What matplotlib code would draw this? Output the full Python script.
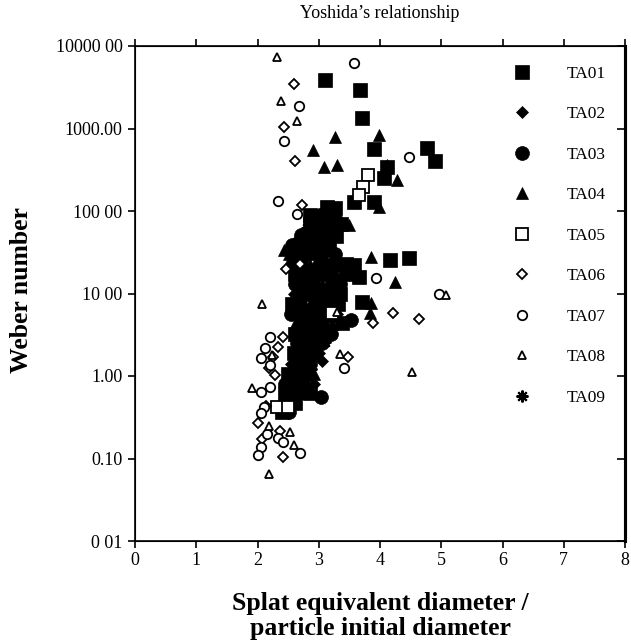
import matplotlib
matplotlib.use("Agg")
import matplotlib.pyplot as plt
from matplotlib.ticker import NullLocator

plt.rcParams['font.family'] = ['Liberation Serif', 'DejaVu Serif']

# ---------------------------------------------------------------------------
# data (x = splat / particle diameter, y = We)
# ---------------------------------------------------------------------------
ta01_x = [3.11, 3.68, 3.70, 4.76, 4.89, 3.90, 4.06, 4.12, 3.90, 3.57, 3.13, 3.26,
          2.88, 3.04, 2.85, 4.17, 4.48, 3.70, 3.57, 3.66,
          2.86, 3.16, 3.06, 3.36, 2.86, 3.28, 2.86, 3.16, 2.66, 2.96, 2.71, 3.15,
          3.44, 2.61, 3.06, 3.50, 2.75, 3.21, 2.76, 3.04, 3.35, 2.56, 3.01, 3.31,
          2.71, 3.16, 2.91, 3.38, 2.62, 3.07, 2.80, 2.60, 2.92, 2.70, 2.50, 2.80,
          2.60, 2.45, 2.86, 2.62, 2.40]
ta01_y = [3900, 2900, 1350, 580, 400, 560, 250, 340, 130, 130, 112, 108,
          74, 64, 70, 25.5, 27, 7.9, 22, 16,
          89, 87, 68, 70, 51, 50, 39, 40, 30, 31, 22, 22,
          23, 17, 17, 17, 13, 13, 9.8, 9.6, 10, 7.4, 7.2, 7.5,
          5.6, 5.5, 4.3, 4.4, 3.2, 3.1, 2.5, 1.9, 1.9, 1.4, 1.07, 1.05,
          0.81, 0.62, 0.62, 0.47, 0.37]

ta02_x = [3.06, 3.21, 2.70, 3.10, 2.90, 2.60, 3.19, 2.85, 3.30, 2.77, 3.00,
          2.55, 2.92, 2.66]
ta02_y = [1.5, 68, 39, 30, 17, 9.8, 9.9, 5.6, 5.7, 3.2, 1.9,
          1.4, 0.81, 46]

ta03_x = [3.52, 3.04, 2.62, 2.85, 3.02, 2.92, 2.71, 3.14, 2.56, 3.00, 2.80, 3.26,
          2.56, 3.01, 3.30, 2.76, 3.20, 2.61, 2.91, 3.34, 2.90, 2.70, 3.16, 2.55,
          3.00, 2.75, 3.05, 2.92, 3.20, 2.65, 3.06, 2.75, 2.85, 2.65, 2.45, 2.75,
          2.60, 2.45, 2.52]
ta03_y = [4.8, 0.56, 36, 42, 89, 68, 51, 51, 39, 39, 30, 30,
          22, 22, 22, 17, 17, 13, 13, 13, 9.8, 7.4, 7.4, 5.6,
          5.6, 4.3, 4.3, 3.2, 3.2, 2.5, 2.5, 1.9, 1.4, 1.07, 0.81, 0.81,
          0.62, 0.47, 0.37]

ta04_x = [3.99, 3.26, 2.91, 3.09, 3.29, 4.11, 4.27, 3.99, 3.49, 2.44, 3.86, 4.24,
          3.86, 3.83, 2.93, 3.31, 3.01, 2.52, 2.86, 3.36, 3.05, 2.86, 2.61, 3.21,
          2.95, 2.92, 2.75]
ta04_y = [830, 790, 550, 340, 360, 365, 237, 112, 68, 34, 27.6, 13.8,
          7.7, 5.8, 0.62, 89, 51, 30, 22, 17, 13, 7.4, 4.3, 4.3,
          2.5, 1.07, 0.62]

ta05_x = [3.80, 3.72, 3.65, 2.32, 2.50, 3.22]
ta05_y = [275, 195, 156, 0.42, 0.42, 5.8]

ta06_x = [2.59, 2.44, 2.62, 2.72, 2.70, 2.47, 3.88, 4.21, 4.63, 3.47, 2.41, 2.33,
          2.26, 2.18, 2.29, 2.14, 2.01, 2.37, 2.41, 2.08]
ta06_y = [3500, 1040, 405, 117, 23, 20, 4.4, 5.8, 4.9, 1.7, 2.97, 2.25,
          1.7, 1.25, 1.03, 0.43, 0.27, 0.215, 0.105, 0.17]

ta07_x = [3.58, 2.67, 2.44, 2.34, 2.65, 4.48, 3.94, 4.96, 3.42, 2.21, 2.13, 2.05,
          2.21, 2.05, 2.21, 2.10, 2.05, 2.16, 2.34, 2.41, 2.05, 2.01, 2.70]
ta07_y = [6200, 1880, 707, 132, 92, 450, 15.4, 9.8, 1.25, 2.97, 2.18, 1.65,
          1.36, 0.64, 0.74, 0.42, 0.36, 0.2, 0.176, 0.16, 0.138, 0.11, 0.117]

ta08_x = [2.32, 2.39, 2.65, 2.07, 4.53, 5.07, 3.34, 1.91, 2.19, 2.53, 2.60, 2.19,
          3.30, 2.24]
ta08_y = [7400, 2140, 1230, 7.5, 1.12, 9.6, 1.85, 0.72, 0.065, 0.21, 0.146, 0.25,
          6.0, 1.8]

ta09_x = [3.00, 2.60, 2.85, 3.10, 2.70, 2.95, 2.80, 2.88]
ta09_y = [42, 24, 11, 2.6, 0.7, 5.2, 62, 1.2]

series_names = ['TA01', 'TA02', 'TA03', 'TA04', 'TA05', 'TA06', 'TA07', 'TA08', 'TA09']

x_ticks = [0, 1, 2, 3, 4, 5, 6, 7, 8]
y_ticks = [0.01, 0.1, 1, 10, 100, 1000, 10000]
y_tick_labels = ['0 01', '0.10', '1.00', '10 00', '100 00', '1000.00', '10000 00']

# ---------------------------------------------------------------------------
W, H = 631, 641
fig = plt.figure(figsize=(W / 100, H / 100), dpi=100)
ax = fig.add_axes([135 / W, 1 - 541 / H, (625 - 135) / W, (541 - 46) / H])

# marker, size, filled, edge width, zorder
styles = [
    ('s', 10.0, True, 0.5, 3),
    ('D', 6.3, True, 0.5, 3),
    ('o', 10.0, True, 0.5, 3),
    ('^', 9.0, True, 0.5, 3),
    ('s', 8.0, False, 1.3, 4),
    ('D', 5.6, False, 1.3, 4),
    ('o', 6.8, False, 1.3, 4),
    ('^', 6.2, False, 1.3, 4),
    ((8, 2, 0), 8.5, True, 1.5, 3),
]
data = [(ta01_x, ta01_y), (ta02_x, ta02_y), (ta03_x, ta03_y), (ta04_x, ta04_y),
        (ta05_x, ta05_y), (ta06_x, ta06_y), (ta07_x, ta07_y), (ta08_x, ta08_y),
        (ta09_x, ta09_y)]

handles = []
for name, (xs, ys), (mk, ms, filled, mew, z) in zip(series_names, data, styles):
    line, = ax.plot(xs, ys, linestyle='none', marker=mk, markersize=ms,
                    markerfacecolor='black' if filled else 'white',
                    markeredgecolor='black', markeredgewidth=mew,
                    zorder=z, label=name)
    handles.append(line)

ax.set_yscale('log')
ax.set_xlim(0, 8)
ax.set_ylim(0.01, 10000)
ax.set_xticks(x_ticks)
ax.set_xticklabels([str(t) for t in x_ticks])
ax.set_yticks(y_ticks)
ax.set_yticklabels(y_tick_labels)
ax.yaxis.set_minor_locator(NullLocator())
ax.tick_params(axis='x', which='major', direction='out', top=True, length=5,
               width=1.2, labelsize=13, pad=3)
ax.tick_params(axis='y', which='major', direction='out', length=5, width=1.2,
               labelsize=13, pad=4)
for side in ['left', 'bottom', 'top']:
    ax.spines[side].set_linewidth(1.2)
ax.spines['right'].set_linewidth(2.2)

# inward ticks on the right-hand frame
ax_r = ax.twinx()
ax_r.set_yscale('log')
ax_r.set_ylim(ax.get_ylim())
ax_r.set_yticks(y_ticks)
ax_r.yaxis.set_minor_locator(NullLocator())
ax_r.tick_params(axis='y', direction='in', length=6, width=1.2, labelright=False)
ax_r.spines['right'].set_linewidth(2.2)

leg = ax.legend(handles=handles, loc='upper left', bbox_to_anchor=(0.772, 0.960),
                frameon=False, fontsize=12.5, handlelength=1.0, handletextpad=2.1,
                labelspacing=1.4, borderpad=0, borderaxespad=0, numpoints=1)

fig.text(380 / W, 1 - 14 / H, 'Yoshida\u2019s relationship', ha='center', va='center',
         fontsize=13)
fig.text(22 / W, 1 - 290 / H, 'Weber number', rotation=90, ha='center', va='center',
         fontsize=18.5, fontweight='bold')
fig.text(380 / W, 1 - 616 / H, 'Splat equivalent diameter /\nparticle initial diameter',
         ha='center', va='center', fontsize=18.5, fontweight='bold', linespacing=1.15)

fig.savefig('out.png', dpi=100)
